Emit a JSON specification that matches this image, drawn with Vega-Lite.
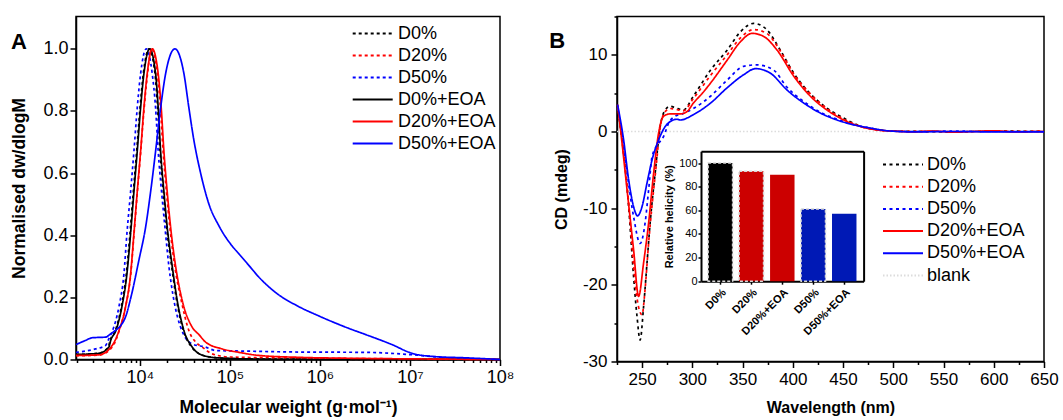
{
  "$schema": "https://vega.github.io/schema/vega-lite/v6.json",
  "background": "white",
  "padding": {"left": 10, "top": 14.5, "right": 0, "bottom": 0},
  "spacing": 33,
  "datasets": {
    "gpc": [
      {"series": "D0%", "M": 1950, "v": 0.016}, {"series": "D0%", "M": 3450, "v": 0.02}, {"series": "D0%", "M": 4460, "v": 0.04}, {"series": "D0%", "M": 4650, "v": 0.06}, {"series": "D0%", "M": 5330, "v": 0.093}, {"series": "D0%", "M": 6220, "v": 0.17}, {"series": "D0%", "M": 7060, "v": 0.275}, {"series": "D0%", "M": 7760, "v": 0.405}, {"series": "D0%", "M": 8450, "v": 0.54}, {"series": "D0%", "M": 9200, "v": 0.67}, {"series": "D0%", "M": 10030, "v": 0.81}, {"series": "D0%", "M": 10910, "v": 0.92}, {"series": "D0%", "M": 12630, "v": 1.0}, {"series": "D0%", "M": 14700, "v": 0.92}, {"series": "D0%", "M": 15720, "v": 0.81}, {"series": "D0%", "M": 16730, "v": 0.67}, {"series": "D0%", "M": 18200, "v": 0.54}, {"series": "D0%", "M": 19800, "v": 0.426}, {"series": "D0%", "M": 22500, "v": 0.3}, {"series": "D0%", "M": 25570, "v": 0.19}, {"series": "D0%", "M": 30370, "v": 0.093}, {"series": "D0%", "M": 37540, "v": 0.04}, {"series": "D0%", "M": 48460, "v": 0.015}, {"series": "D0%", "M": 68260, "v": 0.006}, {"series": "D0%", "M": 150000, "v": 0.002}, {"series": "D0%", "M": 1000000, "v": 0.001}, {"series": "D0%", "M": 100000000, "v": 0.0},
      {"series": "D20%", "M": 1950, "v": 0.012}, {"series": "D20%", "M": 3500, "v": 0.014}, {"series": "D20%", "M": 4920, "v": 0.04}, {"series": "D20%", "M": 5850, "v": 0.09}, {"series": "D20%", "M": 6930, "v": 0.17}, {"series": "D20%", "M": 7880, "v": 0.27}, {"series": "D20%", "M": 8580, "v": 0.4}, {"series": "D20%", "M": 9340, "v": 0.535}, {"series": "D20%", "M": 10180, "v": 0.665}, {"series": "D20%", "M": 11080, "v": 0.8}, {"series": "D20%", "M": 12050, "v": 0.91}, {"series": "D20%", "M": 13490, "v": 1.0}, {"series": "D20%", "M": 15600, "v": 0.92}, {"series": "D20%", "M": 16900, "v": 0.81}, {"series": "D20%", "M": 18100, "v": 0.67}, {"series": "D20%", "M": 19700, "v": 0.54}, {"series": "D20%", "M": 21500, "v": 0.426}, {"series": "D20%", "M": 24400, "v": 0.3}, {"series": "D20%", "M": 28800, "v": 0.19}, {"series": "D20%", "M": 35000, "v": 0.093}, {"series": "D20%", "M": 42000, "v": 0.055}, {"series": "D20%", "M": 49200, "v": 0.04}, {"series": "D20%", "M": 63560, "v": 0.018}, {"series": "D20%", "M": 100000, "v": 0.008}, {"series": "D20%", "M": 1000000, "v": 0.004}, {"series": "D20%", "M": 10000000, "v": 0.002}, {"series": "D20%", "M": 100000000, "v": 0.0},
      {"series": "D50%", "M": 1950, "v": 0.023}, {"series": "D50%", "M": 3220, "v": 0.034}, {"series": "D50%", "M": 4150, "v": 0.045}, {"series": "D50%", "M": 4525, "v": 0.067}, {"series": "D50%", "M": 4920, "v": 0.09}, {"series": "D50%", "M": 5850, "v": 0.17}, {"series": "D50%", "M": 6640, "v": 0.275}, {"series": "D50%", "M": 7170, "v": 0.405}, {"series": "D50%", "M": 7880, "v": 0.54}, {"series": "D50%", "M": 8580, "v": 0.67}, {"series": "D50%", "M": 9340, "v": 0.81}, {"series": "D50%", "M": 10180, "v": 0.92}, {"series": "D50%", "M": 11750, "v": 1.0}, {"series": "D50%", "M": 13700, "v": 0.92}, {"series": "D50%", "M": 14930, "v": 0.81}, {"series": "D50%", "M": 15960, "v": 0.67}, {"series": "D50%", "M": 17400, "v": 0.54}, {"series": "D50%", "M": 18970, "v": 0.426}, {"series": "D50%", "M": 20990, "v": 0.3}, {"series": "D50%", "M": 23870, "v": 0.19}, {"series": "D50%", "M": 28310, "v": 0.104}, {"series": "D50%", "M": 38110, "v": 0.05}, {"series": "D50%", "M": 53700, "v": 0.04}, {"series": "D50%", "M": 69300, "v": 0.029}, {"series": "D50%", "M": 149400, "v": 0.027}, {"series": "D50%", "M": 584000, "v": 0.024}, {"series": "D50%", "M": 3240000, "v": 0.023}, {"series": "D50%", "M": 9750000, "v": 0.016}, {"series": "D50%", "M": 22700000, "v": 0.007}, {"series": "D50%", "M": 45300000, "v": 0.002}, {"series": "D50%", "M": 100000000, "v": 0.0},
      {"series": "D0%+EOA", "M": 1950, "v": 0.016}, {"series": "D0%+EOA", "M": 3500, "v": 0.02}, {"series": "D0%+EOA", "M": 4525, "v": 0.04}, {"series": "D0%+EOA", "M": 4720, "v": 0.06}, {"series": "D0%+EOA", "M": 5410, "v": 0.093}, {"series": "D0%+EOA", "M": 6310, "v": 0.17}, {"series": "D0%+EOA", "M": 7170, "v": 0.275}, {"series": "D0%+EOA", "M": 7880, "v": 0.405}, {"series": "D0%+EOA", "M": 8580, "v": 0.54}, {"series": "D0%+EOA", "M": 9340, "v": 0.67}, {"series": "D0%+EOA", "M": 10180, "v": 0.81}, {"series": "D0%+EOA", "M": 11080, "v": 0.92}, {"series": "D0%+EOA", "M": 12820, "v": 1.0}, {"series": "D0%+EOA", "M": 14930, "v": 0.92}, {"series": "D0%+EOA", "M": 15960, "v": 0.81}, {"series": "D0%+EOA", "M": 16980, "v": 0.67}, {"series": "D0%+EOA", "M": 18480, "v": 0.54}, {"series": "D0%+EOA", "M": 20100, "v": 0.426}, {"series": "D0%+EOA", "M": 22850, "v": 0.3}, {"series": "D0%+EOA", "M": 25960, "v": 0.19}, {"series": "D0%+EOA", "M": 30830, "v": 0.093}, {"series": "D0%+EOA", "M": 38110, "v": 0.04}, {"series": "D0%+EOA", "M": 49200, "v": 0.014}, {"series": "D0%+EOA", "M": 69300, "v": 0.006}, {"series": "D0%+EOA", "M": 150000, "v": 0.002}, {"series": "D0%+EOA", "M": 1000000, "v": 0.0}, {"series": "D0%+EOA", "M": 100000000, "v": 0.0},
      {"series": "D20%+EOA", "M": 1950, "v": 0.013}, {"series": "D20%+EOA", "M": 3500, "v": 0.015}, {"series": "D20%+EOA", "M": 4920, "v": 0.045}, {"series": "D20%+EOA", "M": 5850, "v": 0.093}, {"series": "D20%+EOA", "M": 6930, "v": 0.17}, {"series": "D20%+EOA", "M": 7880, "v": 0.275}, {"series": "D20%+EOA", "M": 8580, "v": 0.405}, {"series": "D20%+EOA", "M": 9340, "v": 0.54}, {"series": "D20%+EOA", "M": 10180, "v": 0.67}, {"series": "D20%+EOA", "M": 11080, "v": 0.81}, {"series": "D20%+EOA", "M": 12050, "v": 0.92}, {"series": "D20%+EOA", "M": 13700, "v": 1.0}, {"series": "D20%+EOA", "M": 15960, "v": 0.92}, {"series": "D20%+EOA", "M": 17250, "v": 0.81}, {"series": "D20%+EOA", "M": 18480, "v": 0.67}, {"series": "D20%+EOA", "M": 20100, "v": 0.54}, {"series": "D20%+EOA", "M": 21930, "v": 0.426}, {"series": "D20%+EOA", "M": 24930, "v": 0.3}, {"series": "D20%+EOA", "M": 29510, "v": 0.19}, {"series": "D20%+EOA", "M": 38110, "v": 0.104}, {"series": "D20%+EOA", "M": 45250, "v": 0.08}, {"series": "D20%+EOA", "M": 53700, "v": 0.056}, {"series": "D20%+EOA", "M": 82100, "v": 0.034}, {"series": "D20%+EOA", "M": 125900, "v": 0.023}, {"series": "D20%+EOA", "M": 210000, "v": 0.013}, {"series": "D20%+EOA", "M": 584000, "v": 0.007}, {"series": "D20%+EOA", "M": 2100000, "v": 0.004}, {"series": "D20%+EOA", "M": 10000000, "v": 0.002}, {"series": "D20%+EOA", "M": 100000000, "v": 0.0},
      {"series": "D50%+EOA", "M": 1950, "v": 0.048}, {"series": "D50%+EOA", "M": 2470, "v": 0.061}, {"series": "D50%+EOA", "M": 2950, "v": 0.07}, {"series": "D50%+EOA", "M": 4150, "v": 0.072}, {"series": "D50%+EOA", "M": 4760, "v": 0.083}, {"series": "D50%+EOA", "M": 5410, "v": 0.095}, {"series": "D50%+EOA", "M": 6150, "v": 0.11}, {"series": "D50%+EOA", "M": 6980, "v": 0.14}, {"series": "D50%+EOA", "M": 7940, "v": 0.2}, {"series": "D50%+EOA", "M": 9750, "v": 0.32}, {"series": "D50%+EOA", "M": 11570, "v": 0.426}, {"series": "D50%+EOA", "M": 13150, "v": 0.54}, {"series": "D50%+EOA", "M": 14930, "v": 0.67}, {"series": "D50%+EOA", "M": 16980, "v": 0.81}, {"series": "D50%+EOA", "M": 19300, "v": 0.92}, {"series": "D50%+EOA", "M": 24490, "v": 1.0}, {"series": "D50%+EOA", "M": 30830, "v": 0.92}, {"series": "D50%+EOA", "M": 35000, "v": 0.81}, {"series": "D50%+EOA", "M": 39810, "v": 0.705}, {"series": "D50%+EOA", "M": 47230, "v": 0.6}, {"series": "D50%+EOA", "M": 58440, "v": 0.5}, {"series": "D50%+EOA", "M": 75500, "v": 0.43}, {"series": "D50%+EOA", "M": 106000, "v": 0.365}, {"series": "D50%+EOA", "M": 125900, "v": 0.34}, {"series": "D50%+EOA", "M": 160000, "v": 0.305}, {"series": "D50%+EOA", "M": 210000, "v": 0.265}, {"series": "D50%+EOA", "M": 324000, "v": 0.215}, {"series": "D50%+EOA", "M": 584000, "v": 0.17}, {"series": "D50%+EOA", "M": 975000, "v": 0.14}, {"series": "D50%+EOA", "M": 2100000, "v": 0.1}, {"series": "D50%+EOA", "M": 3240000, "v": 0.08}, {"series": "D50%+EOA", "M": 6310000, "v": 0.048}, {"series": "D50%+EOA", "M": 10500000, "v": 0.02}, {"series": "D50%+EOA", "M": 17500000, "v": 0.01}, {"series": "D50%+EOA", "M": 45000000, "v": 0.005}, {"series": "D50%+EOA", "M": 100000000, "v": 0.0}
    ],
    "cd": [
      {"series": "blank", "lambda": 225, "cd": 0}, {"series": "blank", "lambda": 650, "cd": 0},
      {"series": "D0%", "lambda": 225.6, "cd": 3.3}, {"series": "D0%", "lambda": 236.6, "cd": -9.8}, {"series": "D0%", "lambda": 241.5, "cd": -18.9}, {"series": "D0%", "lambda": 244.9, "cd": -24.1}, {"series": "D0%", "lambda": 248, "cd": -27.2}, {"series": "D0%", "lambda": 251.5, "cd": -22.8}, {"series": "D0%", "lambda": 254.9, "cd": -17.1}, {"series": "D0%", "lambda": 258, "cd": -11.9}, {"series": "D0%", "lambda": 263, "cd": -5.4}, {"series": "D0%", "lambda": 268, "cd": 0.65}, {"series": "D0%", "lambda": 273, "cd": 2.8}, {"series": "D0%", "lambda": 278, "cd": 3.3}, {"series": "D0%", "lambda": 283, "cd": 3.1}, {"series": "D0%", "lambda": 291, "cd": 2.8}, {"series": "D0%", "lambda": 301, "cd": 4.6}, {"series": "D0%", "lambda": 318, "cd": 8.0}, {"series": "D0%", "lambda": 334.6, "cd": 10.6}, {"series": "D0%", "lambda": 347.8, "cd": 13.0}, {"series": "D0%", "lambda": 361, "cd": 14.1}, {"series": "D0%", "lambda": 374, "cd": 13.3}, {"series": "D0%", "lambda": 387.6, "cd": 10.6}, {"series": "D0%", "lambda": 401, "cd": 7.6}, {"series": "D0%", "lambda": 414, "cd": 5.4}, {"series": "D0%", "lambda": 434, "cd": 3.05}, {"series": "D0%", "lambda": 450.7, "cd": 1.75}, {"series": "D0%", "lambda": 467, "cd": 0.7}, {"series": "D0%", "lambda": 484, "cd": 0.25}, {"series": "D0%", "lambda": 500, "cd": 0.05}, {"series": "D0%", "lambda": 530, "cd": 0.0}, {"series": "D0%", "lambda": 560, "cd": -0.05}, {"series": "D0%", "lambda": 600, "cd": 0.05}, {"series": "D0%", "lambda": 650, "cd": 0.0},
      {"series": "D20%", "lambda": 225.6, "cd": 3.4}, {"series": "D20%", "lambda": 236.6, "cd": -9.3}, {"series": "D20%", "lambda": 241.5, "cd": -17.5}, {"series": "D20%", "lambda": 245, "cd": -21.8}, {"series": "D20%", "lambda": 249.9, "cd": -23.9}, {"series": "D20%", "lambda": 253, "cd": -20.5}, {"series": "D20%", "lambda": 256.5, "cd": -14.5}, {"series": "D20%", "lambda": 260, "cd": -9.5}, {"series": "D20%", "lambda": 264, "cd": -4.5}, {"series": "D20%", "lambda": 268, "cd": 0.5}, {"series": "D20%", "lambda": 273, "cd": 2.6}, {"series": "D20%", "lambda": 278, "cd": 3.0}, {"series": "D20%", "lambda": 283, "cd": 2.9}, {"series": "D20%", "lambda": 291, "cd": 2.7}, {"series": "D20%", "lambda": 301, "cd": 4.3}, {"series": "D20%", "lambda": 318, "cd": 7.3}, {"series": "D20%", "lambda": 334.6, "cd": 10.0}, {"series": "D20%", "lambda": 347.8, "cd": 12.2}, {"series": "D20%", "lambda": 361, "cd": 13.3}, {"series": "D20%", "lambda": 374, "cd": 12.8}, {"series": "D20%", "lambda": 387.6, "cd": 10.5}, {"series": "D20%", "lambda": 401, "cd": 7.5}, {"series": "D20%", "lambda": 417.5, "cd": 4.9}, {"series": "D20%", "lambda": 434, "cd": 3.0}, {"series": "D20%", "lambda": 450.7, "cd": 1.6}, {"series": "D20%", "lambda": 467, "cd": 0.7}, {"series": "D20%", "lambda": 484, "cd": 0.2}, {"series": "D20%", "lambda": 500, "cd": 0.05}, {"series": "D20%", "lambda": 550, "cd": 0.0}, {"series": "D20%", "lambda": 600, "cd": 0.0}, {"series": "D20%", "lambda": 650, "cd": 0.05},
      {"series": "D50%", "lambda": 225.6, "cd": 3.0}, {"series": "D50%", "lambda": 228.3, "cd": 1.1}, {"series": "D50%", "lambda": 235, "cd": -5.4}, {"series": "D50%", "lambda": 241.5, "cd": -11.1}, {"series": "D50%", "lambda": 248, "cd": -14.6}, {"series": "D50%", "lambda": 253, "cd": -11.9}, {"series": "D50%", "lambda": 256.5, "cd": -7.6}, {"series": "D50%", "lambda": 259.9, "cd": -3.3}, {"series": "D50%", "lambda": 265, "cd": -1.8}, {"series": "D50%", "lambda": 271.4, "cd": -0.65}, {"series": "D50%", "lambda": 276.4, "cd": 1.1}, {"series": "D50%", "lambda": 283, "cd": 2.0}, {"series": "D50%", "lambda": 290, "cd": 2.3}, {"series": "D50%", "lambda": 301, "cd": 3.0}, {"series": "D50%", "lambda": 318, "cd": 4.6}, {"series": "D50%", "lambda": 334.6, "cd": 6.7}, {"series": "D50%", "lambda": 351, "cd": 8.5}, {"series": "D50%", "lambda": 364, "cd": 8.7}, {"series": "D50%", "lambda": 381, "cd": 8.0}, {"series": "D50%", "lambda": 394, "cd": 5.8}, {"series": "D50%", "lambda": 411, "cd": 3.9}, {"series": "D50%", "lambda": 427.5, "cd": 2.5}, {"series": "D50%", "lambda": 444, "cd": 1.6}, {"series": "D50%", "lambda": 460.7, "cd": 0.9}, {"series": "D50%", "lambda": 477, "cd": 0.45}, {"series": "D50%", "lambda": 494, "cd": 0.1}, {"series": "D50%", "lambda": 520, "cd": 0.0}, {"series": "D50%", "lambda": 560, "cd": 0.05}, {"series": "D50%", "lambda": 600, "cd": 0.0}, {"series": "D50%", "lambda": 650, "cd": 0.0},
      {"series": "D20%+EOA", "lambda": 225.6, "cd": 3.5}, {"series": "D20%+EOA", "lambda": 230, "cd": -1.5}, {"series": "D20%+EOA", "lambda": 235, "cd": -7.6}, {"series": "D20%+EOA", "lambda": 241.5, "cd": -15.4}, {"series": "D20%+EOA", "lambda": 246.5, "cd": -21.5}, {"series": "D20%+EOA", "lambda": 251.5, "cd": -17.1}, {"series": "D20%+EOA", "lambda": 256.5, "cd": -11.9}, {"series": "D20%+EOA", "lambda": 261.5, "cd": -5.4}, {"series": "D20%+EOA", "lambda": 266.4, "cd": -0.2}, {"series": "D20%+EOA", "lambda": 271.4, "cd": 2.0}, {"series": "D20%+EOA", "lambda": 278, "cd": 2.3}, {"series": "D20%+EOA", "lambda": 288, "cd": 2.3}, {"series": "D20%+EOA", "lambda": 294.7, "cd": 2.6}, {"series": "D20%+EOA", "lambda": 301, "cd": 3.7}, {"series": "D20%+EOA", "lambda": 310, "cd": 5.0}, {"series": "D20%+EOA", "lambda": 318, "cd": 6.3}, {"series": "D20%+EOA", "lambda": 334.6, "cd": 9.3}, {"series": "D20%+EOA", "lambda": 347.8, "cd": 11.7}, {"series": "D20%+EOA", "lambda": 359.5, "cd": 12.8}, {"series": "D20%+EOA", "lambda": 371, "cd": 12.4}, {"series": "D20%+EOA", "lambda": 384.4, "cd": 10.6}, {"series": "D20%+EOA", "lambda": 401, "cd": 7.2}, {"series": "D20%+EOA", "lambda": 417.5, "cd": 4.6}, {"series": "D20%+EOA", "lambda": 434, "cd": 2.8}, {"series": "D20%+EOA", "lambda": 450.7, "cd": 1.5}, {"series": "D20%+EOA", "lambda": 467.3, "cd": 0.65}, {"series": "D20%+EOA", "lambda": 484, "cd": 0.2}, {"series": "D20%+EOA", "lambda": 500, "cd": 0.05}, {"series": "D20%+EOA", "lambda": 520, "cd": -0.05}, {"series": "D20%+EOA", "lambda": 540, "cd": 0.05}, {"series": "D20%+EOA", "lambda": 560, "cd": -0.1}, {"series": "D20%+EOA", "lambda": 580, "cd": 0.0}, {"series": "D20%+EOA", "lambda": 600, "cd": 0.1}, {"series": "D20%+EOA", "lambda": 620, "cd": -0.05}, {"series": "D20%+EOA", "lambda": 650, "cd": 0.0},
      {"series": "D50%+EOA", "lambda": 225.6, "cd": 3.5}, {"series": "D50%+EOA", "lambda": 231.6, "cd": -1.1}, {"series": "D50%+EOA", "lambda": 236.6, "cd": -6.3}, {"series": "D50%+EOA", "lambda": 241.5, "cd": -9.8}, {"series": "D50%+EOA", "lambda": 245.5, "cd": -11.0}, {"series": "D50%+EOA", "lambda": 249.9, "cd": -9.8}, {"series": "D50%+EOA", "lambda": 254.9, "cd": -6.7}, {"series": "D50%+EOA", "lambda": 259.9, "cd": -3.7}, {"series": "D50%+EOA", "lambda": 266.4, "cd": -1.1}, {"series": "D50%+EOA", "lambda": 273, "cd": 0.65}, {"series": "D50%+EOA", "lambda": 278, "cd": 1.3}, {"series": "D50%+EOA", "lambda": 284.7, "cd": 1.6}, {"series": "D50%+EOA", "lambda": 288, "cd": 1.5}, {"series": "D50%+EOA", "lambda": 301, "cd": 2.2}, {"series": "D50%+EOA", "lambda": 318, "cd": 3.7}, {"series": "D50%+EOA", "lambda": 334.6, "cd": 5.7}, {"series": "D50%+EOA", "lambda": 351, "cd": 7.4}, {"series": "D50%+EOA", "lambda": 363, "cd": 8.2}, {"series": "D50%+EOA", "lambda": 377.7, "cd": 7.6}, {"series": "D50%+EOA", "lambda": 394.3, "cd": 5.4}, {"series": "D50%+EOA", "lambda": 411, "cd": 3.7}, {"series": "D50%+EOA", "lambda": 427.5, "cd": 2.4}, {"series": "D50%+EOA", "lambda": 444, "cd": 1.5}, {"series": "D50%+EOA", "lambda": 460.7, "cd": 0.87}, {"series": "D50%+EOA", "lambda": 477.3, "cd": 0.44}, {"series": "D50%+EOA", "lambda": 494, "cd": 0.1}, {"series": "D50%+EOA", "lambda": 520, "cd": -0.05}, {"series": "D50%+EOA", "lambda": 560, "cd": 0.0}, {"series": "D50%+EOA", "lambda": 600, "cd": -0.05}, {"series": "D50%+EOA", "lambda": 650, "cd": -0.05}
    ],
    "helix": [
      {"s": "D0%", "h": 100}, {"s": "D20%", "h": 93}, {"s": "D20%+EOA", "h": 90}, {"s": "D50%", "h": 61}, {"s": "D50%+EOA", "h": 57}
    ]
  },
  "hconcat": [
    {
      "width": 424,
      "height": 343,
      "layer": [
        {
          "data": {"name": "gpc"},
          "mark": {"type": "line", "strokeWidth": 1.7, "interpolate": "monotone"},
          "encoding": {
            "x": {"field": "M", "type": "quantitative",
              "scale": {"type": "log", "domain": [1950, 100000000], "nice": false},
              "axis": {"title": "Molecular weight (g·mol⁻¹)", "titleFontSize": 17.5, "titlePadding": 12,
                "labelFontSize": 18, "labelPadding": 3, "labelFlush": false, "labelOverlap": false,
                "values": [2000,3000,4000,5000,6000,7000,8000,9000,10000,20000,30000,40000,50000,60000,70000,80000,90000,100000,200000,300000,400000,500000,600000,700000,800000,900000,1000000,2000000,3000000,4000000,5000000,6000000,7000000,8000000,9000000,10000000,20000000,30000000,40000000,50000000,60000000,70000000,80000000,90000000,100000000],
                "labelExpr": "abs(log(datum.value)/LN10 - round(log(datum.value)/LN10)) < 0.001 ? '10' + ['⁰','¹','²','³','⁴','⁵','⁶','⁷','⁸','⁹'][round(log(datum.value)/LN10)] : ''",
                "tickSize": {"condition": {"test": "abs(log(datum.value)/LN10 - round(log(datum.value)/LN10)) < 0.001", "value": 6}, "value": 3}}},
            "y": {"field": "v", "type": "quantitative",
              "scale": {"domain": [0, 1.104], "nice": false, "zero": false},
              "axis": {"title": "Normalised dw/dlogM", "titleFontSize": 17.5, "titlePadding": 14,
                "labelFontSize": 18, "labelPadding": 2,
                "values": [0,0.1,0.2,0.3,0.4,0.5,0.6,0.7,0.8,0.9,1.0,1.1],
                "labelExpr": "round(datum.value*10) % 2 == 0 ? format(datum.value, '.1f') : ''",
                "tickSize": {"condition": {"test": "round(datum.value*10) % 2 == 0", "value": 6}, "value": 3}}},
            "color": {"field": "series", "type": "nominal",
              "scale": {"domain": ["D0%","D20%","D50%","D0%+EOA","D20%+EOA","D50%+EOA"], "range": ["#000000","#ff0000","#0000ff","#000000","#ff0000","#0000ff"]},
              "legend": {"orient": "none", "legendX": 287.7, "legendY": 8, "title": null, "labelFontSize": 18, "labelFont": "Liberation Sans", "labelColor": "black", "symbolType": "M-4,0H4", "symbolSize": 100, "symbolStrokeWidth": 2, "rowPadding": 4, "labelOffset": 16.3, "padding": 0}},
            "strokeDash": {"field": "series", "type": "nominal",
              "scale": {"domain": ["D0%","D20%","D50%","D0%+EOA","D20%+EOA","D50%+EOA"], "range": [[3,3],[3,3],[3,3],[1,0],[1,0],[1,0]]},
              "legend": {"orient": "none", "legendX": 287.7, "legendY": 8, "title": null, "labelFontSize": 18, "labelFont": "Liberation Sans", "labelColor": "black", "symbolType": "M-4,0H4", "symbolSize": 100, "symbolStrokeWidth": 2, "rowPadding": 4, "labelOffset": 16.3, "padding": 0}}
          }
        },
        {
          "data": {"values": [{"M": 454, "v": 1.0235, "lab": "A"}]},
          "mark": {"type": "text", "fontSize": 22, "fontWeight": "bold", "font": "Liberation Sans", "color": "black", "align": "center", "baseline": "middle"},
          "encoding": {
            "x": {"field": "M", "type": "quantitative", "scale": {"type": "log", "domain": [1950, 100000000], "nice": false}},
            "y": {"field": "v", "type": "quantitative", "scale": {"domain": [0, 1.104], "nice": false, "zero": false}},
            "text": {"field": "lab"}
          }
        }
      ]
    },
    {
      "width": 427,
      "height": 345,
      "layer": [
        {
          "data": {"name": "cd"},
          "mark": {"type": "line", "strokeWidth": 1.7, "interpolate": "monotone"},
          "encoding": {
            "x": {"field": "lambda", "type": "quantitative",
              "scale": {"domain": [225, 650], "nice": false, "zero": false},
              "axis": {"orient": "bottom", "title": "Wavelength (nm)", "titleFontSize": 16, "titlePadding": 12,
                "labelFontSize": 17, "labelPadding": 4, "labelFlush": false, "labelOverlap": false,
                "values": [225,250,275,300,325,350,375,400,425,450,475,500,525,550,575,600,625,650],
                "labelExpr": "datum.value % 50 == 0 ? '' + datum.value : ''",
                "tickSize": {"condition": {"test": "datum.value % 50 == 0", "value": 6}, "value": 3}}},
            "y": {"field": "cd", "type": "quantitative",
              "scale": {"domain": [-30, 15], "nice": false, "zero": false},
              "axis": {"orient": "left", "title": "CD (mdeg)", "titleFontSize": 16, "titlePadding": 13,
                "labelFontSize": 17, "labelPadding": 4,
                "values": [-30,-25,-20,-15,-10,-5,0,5,10,15],
                "labelExpr": "datum.value % 10 == 0 ? '' + datum.value : ''",
                "tickSize": {"condition": {"test": "datum.value % 10 == 0", "value": 6}, "value": 3}}},
            "color": {"field": "series", "type": "nominal",
              "scale": {"domain": ["D0%","D20%","D50%","D20%+EOA","D50%+EOA","blank"], "range": ["#000000","#ff0000","#0000ff","#ff0000","#0000ff","#dcdcdc"]},
              "legend": {"orient": "none", "legendX": 277, "legendY": 139, "title": null, "labelFontSize": 18, "labelFont": "Liberation Sans", "labelColor": "black", "symbolType": "M-4,0H4", "symbolSize": 100, "symbolStrokeWidth": 2, "rowPadding": 4.2, "labelOffset": 15, "padding": 0}},
            "strokeDash": {"field": "series", "type": "nominal",
              "scale": {"domain": ["D0%","D20%","D50%","D20%+EOA","D50%+EOA","blank"], "range": [[3,3.5],[3,3.5],[3,3.5],[1,0],[1,0],[1.5,2]]},
              "legend": {"orient": "none", "legendX": 277, "legendY": 139, "title": null, "labelFontSize": 18, "labelFont": "Liberation Sans", "labelColor": "black", "symbolType": "M-4,0H4", "symbolSize": 100, "symbolStrokeWidth": 2, "rowPadding": 4.2, "labelOffset": 15, "padding": 0}}
          }
        },
        {
          "data": {"values": [{"lambda": 165.5, "cd": 11.8, "lab": "B"}]},
          "mark": {"type": "text", "fontSize": 22, "fontWeight": "bold", "font": "Liberation Sans", "color": "black", "align": "center", "baseline": "middle"},
          "encoding": {
            "x": {"field": "lambda", "type": "quantitative", "scale": {"domain": [225, 650], "nice": false, "zero": false}, "axis": null},
            "y": {"field": "cd", "type": "quantitative", "scale": {"domain": [-30, 15], "nice": false, "zero": false}, "axis": null},
            "text": {"field": "lab"}
          }
        },
        {
          "data": {"name": "helix"},
          "layer": [
            {
              "mark": {"type": "bar"},
              "encoding": {
                "x": {"field": "s", "type": "nominal", "sort": null,
                  "scale": {"domain": ["D0%","D20%","D20%+EOA","D50%","D50%+EOA"], "range": [84, 246.6], "paddingInner": 0.21, "paddingOuter": 0.23},
                  "axis": {"orient": "bottom", "offset": -80.3, "title": null, "labelAngle": -45, "labelFontSize": 11, "labelFontWeight": "bold", "labelPadding": 2, "tickSize": 3, "domainWidth": 2, "labelAlign": "right", "labelBaseline": "top"}},
                "y": {"field": "h", "type": "quantitative",
                  "scale": {"domain": [0, 110], "range": [264.7, 134.7], "nice": false, "zero": false},
                  "axis": {"orient": "left", "offset": -84, "title": "Relative helicity (%)", "titleFontSize": 11, "titlePadding": 4, "values": [0,20,40,60,80,100], "labelFontSize": 11, "labelPadding": 1, "tickSize": 3, "domainWidth": 2}},
                "fill": {"field": "s", "type": "nominal",
                  "scale": {"domain": ["D0%","D20%","D20%+EOA","D50%","D50%+EOA"], "range": ["#000000","#cc0000","#cc0000","#0019b5","#0019b5"]},
                  "legend": null}
              }
            },
            {
              "transform": [{"filter": {"field": "s", "oneOf": ["D0%","D20%","D50%"]}}],
              "mark": {"type": "bar", "filled": false, "stroke": "#d8d8d8", "strokeDash": [3,2], "strokeWidth": 1.5},
              "encoding": {
                "x": {"field": "s", "type": "nominal", "sort": null, "axis": null},
                "y": {"field": "h", "type": "quantitative", "axis": null}
              }
            },
            {
              "mark": {"type": "bar", "opacity": 0},
              "encoding": {
                "x": {"field": "s", "type": "nominal", "sort": null,
                  "axis": {"orient": "top", "offset": -134.7, "title": null, "labels": false, "ticks": false, "domainWidth": 2}},
                "y": {"field": "h", "type": "quantitative",
                  "axis": {"orient": "right", "offset": -180.4, "title": null, "labels": false, "ticks": false, "domainWidth": 2}}
              }
            }
          ],
          "resolve": {"axis": {"x": "independent", "y": "independent"}}
        }
      ],
      "resolve": {"scale": {"x": "independent", "y": "independent"}, "axis": {"x": "independent", "y": "independent"}}
    }
  ],
  "resolve": {
    "scale": {"color": "independent", "strokeDash": "independent"},
    "legend": {"color": "independent", "strokeDash": "independent"}
  },
  "config": {
    "font": "Liberation Sans",
    "view": {"stroke": "black", "strokeWidth": 1.5},
    "axis": {"grid": false, "domainColor": "black", "domainWidth": 1.5, "tickColor": "black", "tickWidth": 1.5,
      "labelColor": "black", "titleColor": "black", "labelFont": "Liberation Sans", "titleFont": "Liberation Sans", "titleFontWeight": "bold"}
  }
}
